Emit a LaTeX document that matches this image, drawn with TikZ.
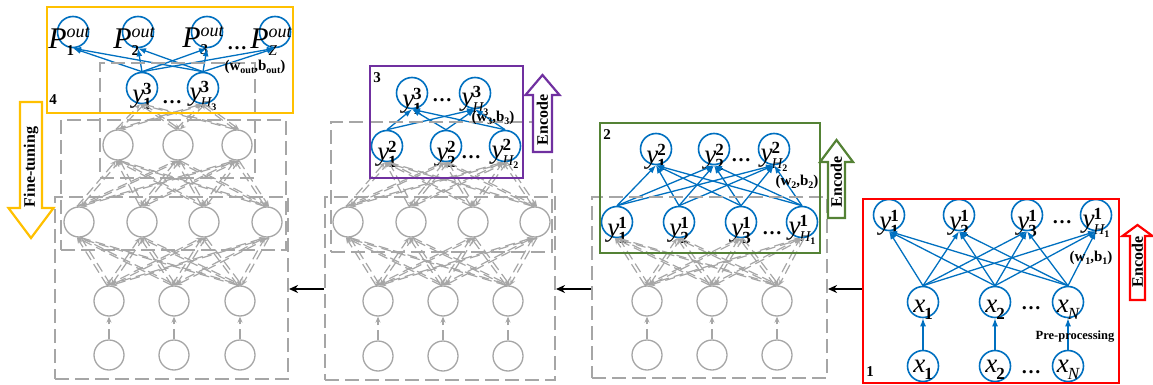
\documentclass[tikz,border=0pt]{standalone}
\usepackage{fontspec}
\setmainfont{Liberation Serif}
\usetikzlibrary{arrows.meta,fit}
\definecolor{myblue}{HTML}{0070C0}
\definecolor{mygray}{HTML}{A6A6A6}
\definecolor{myyellow}{HTML}{FFC000}
\definecolor{mygreen}{HTML}{548235}
\definecolor{mypurple}{HTML}{7030A0}
\definecolor{myred}{HTML}{FF0000}
\newcommand\fsz[1]{\fontsize{#1}{#1}\selectfont}
\newcommand\nlab[3]{{\fsz{27}\itshape #1}\kern-1pt{\fsz{17}\bfseries\ooalign{\raisebox{8pt}{#3}\cr\raisebox{-7pt}{#2}\cr}}}
\newcommand\plab[1]{{\fsz{30}\itshape P}{\ooalign{\raisebox{11pt}{\fsz{18}\itshape out}\cr\raisebox{-7pt}{\fsz{15}\bfseries #1}\cr}}}
\newcommand\Hs[1]{{\fsz{15}\mdseries\itshape H}\raisebox{-3pt}{\fsz{10}\bfseries #1}}
\newcommand\ita[1]{{\mdseries\itshape #1}}
\newcommand\wb[1]{{\fsz{15}\bfseries (w\raisebox{-3pt}{\fsz{10}#1},b\raisebox{-3pt}{\fsz{10}#1})}}
\newcommand\bidir[2]{%
  \draw[garr] ([xshift=-2pt]#1.north) -- ([xshift=-2pt]#2.south);
  \draw[garr] ([xshift=2pt]#2.south) -- ([xshift=2pt]#1.north);}
% color, xc, tip, headbase, tail, shafthalf, headhalf
\newcommand\bigarr[7]{%
  \draw[#1, line width=2.2pt, fill=white, line join=miter]
   (#2,#3) -- (#2+#7,#4) -- (#2+#6,#4) -- (#2+#6,#5) -- (#2-#6,#5) -- (#2-#6,#4) -- (#2-#7,#4) -- cycle;}
\begin{document}
\begin{tikzpicture}[x=1pt,y=-1pt,
  gnode/.style={circle, draw=mygray, line width=1.3pt, minimum size=30pt, inner sep=0pt, fill=white},
  bnode/.style={circle, draw=myblue, line width=1.6pt, minimum size=31pt, inner sep=0pt, fill=white},
  lbl/.style={anchor=base, yshift=-8pt, inner sep=0pt},
  garr/.style={draw=mygray, line width=1.2pt, dash pattern=on 10pt off 5pt, -{Stealth[length=6pt,width=5pt]}},
  barr/.style={draw=myblue, line width=1.3pt, -{Latex[length=8pt,width=6pt]}},
  dbox/.style={draw=mygray, line width=2pt, dash pattern=on 14pt off 6pt, rectangle, inner sep=0pt},
  cbox/.style={rectangle, line width=2.3pt, inner sep=0pt},
  blk/.style={line width=1.8pt, -{Stealth[length=9pt,width=8pt]}},
  numlab/.style={font=\fsz{15}\bfseries, inner sep=0pt},
  dotlab/.style={font=\fsz{20}\bfseries, inner sep=0pt},
  biglab/.style={font=\fsz{16}\bfseries, rotate=90, inner sep=0pt},
  small/.style={font=\fsz{12.5}\bfseries, inner sep=0pt}]
\useasboundingbox (0,0) rectangle (1153,385);

% ================= Left panel =================
\foreach \n/\x in {a/109,b/174,c/240}{
  \node[gnode] (L0\n) at (\x,355) {};
  \node[gnode] (L1\n) at (\x,301) {};}
\foreach \n/\x in {a/79,b/142,c/204,d/267} \node[gnode] (L2\n) at (\x,222) {};
\foreach \n/\x in {a/118,b/178,c/237} \node[gnode] (L3\n) at (\x,145) {};
\node[bnode, label={[lbl]center:\nlab{y}{1}{3}}] (L4a) at (142,88) {};
\node[bnode, label={[lbl]center:\nlab{y}{\Hs{3}}{3}}] (L4b) at (203,88) {};
\node[bnode, label={[lbl,xshift=-4pt,yshift=-1pt]center:\plab{1}}] (L5a) at (73,32) {};
\node[bnode, label={[lbl,xshift=-4pt,yshift=-1pt]center:\plab{2}}] (L5b) at (138,32) {};
\node[bnode, label={[lbl,xshift=-4pt,yshift=-1pt]center:\plab{3}}] (L5c) at (207,32) {};
\node[bnode, label={[lbl,xshift=-4pt,yshift=-1pt]center:\plab{\ita{Z}}}] (L5d) at (275,32) {};

\foreach \a in {a,b,c} \draw[garr] (L0\a.north) -- (L1\a.south);
\foreach \a in {a,b,c} \foreach \b in {a,b,c,d} {\bidir{L1\a}{L2\b}}
\foreach \a in {a,b,c,d} \foreach \b in {a,b,c} {\bidir{L2\a}{L3\b}}
\foreach \a in {a,b,c} \foreach \b in {a,b} {\bidir{L3\a}{L4\b}}
\foreach \a in {a,b} \foreach \b in {a,b,c,d} \draw[barr] (L4\a.north) -- (L5\b.south);

\node[dbox, fit={(55,197) (288,379)}] (Lb1) {};
\node[dbox, fit={(61,120) (286,250)}] (Lb2) {};
\node[dbox, fit={(100,63) (255,178)}] (Lb3) {};
\node[cbox, draw=myyellow, fit={(47,7) (293,113)}] (Lb4) {};
\node[numlab] (n4) at (53,100) {4};
\node[dotlab] (dL5) at (237,48) {\ldots};
\node[dotlab] (dL4) at (172,102) {\ldots};
\node[font=\bfseries, inner sep=0pt] (wout) at (255,67) {\wb{out}};
\bigarr{myyellow}{31}{238}{208}{102}{11}{22.5}
\node[biglab] (ft) at (31,167) {Fine-tuning};

% ================= Middle panel =================
\foreach \n/\x in {a/378,b/443,c/508}{
  \node[gnode] (M0\n) at (\x,356) {};
  \node[gnode] (M1\n) at (\x,301) {};}
\foreach \n/\x in {a/348,b/411,c/473,d/535} \node[gnode] (M2\n) at (\x,222) {};
\node[bnode, label={[lbl]center:\nlab{y}{1}{2}}] (M3a) at (387,146) {};
\node[bnode, label={[lbl]center:\nlab{y}{2}{2}}] (M3b) at (446,146) {};
\node[bnode, label={[lbl]center:\nlab{y}{\Hs{2}}{2}}] (M3c) at (505,146) {};
\node[bnode, label={[lbl]center:\nlab{y}{1}{3}}] (M4a) at (412,93) {};
\node[bnode, label={[lbl]center:\nlab{y}{\Hs{3}}{3}}] (M4b) at (475,93) {};

\foreach \a in {a,b,c} \draw[garr] (M0\a.north) -- (M1\a.south);
\foreach \a in {a,b,c} \foreach \b in {a,b,c,d} {\bidir{M1\a}{M2\b}}
\foreach \a in {a,b,c,d} \foreach \b in {a,b,c} {\bidir{M2\a}{M3\b}}
\foreach \a in {a,b,c} \foreach \b in {a,b} \draw[barr] (M3\a.north) -- (M4\b.south);

\node[dbox, fit={(325,197) (555,380)}] (Mb1) {};
\node[dbox, fit={(331,122) (552,252)}] (Mb2) {};
\node[cbox, draw=mypurple, fit={(370,66) (523,178)}] (Mb3) {};
\node[numlab] (n3) at (377,78) {3};
\node[dotlab] (dM4) at (442,100) {\ldots};
\node[dotlab] (dM3) at (471,157) {\ldots};
\node[font=\bfseries, inner sep=0pt] (w3) at (493,118) {\wb{3}};
\bigarr{mypurple}{542.5}{75}{95}{152}{9.5}{17}
\node[biglab] (e3) at (542.5,120) {Encode};

% ================= Right gray panel =================
\foreach \n/\x in {a/647,b/712,c/777}{
  \node[gnode] (R0\n) at (\x,355) {};
  \node[gnode] (R1\n) at (\x,301) {};}
\node[bnode, label={[lbl]center:\nlab{y}{1}{1}}] (R2a) at (617,222) {};
\node[bnode, label={[lbl]center:\nlab{y}{2}{1}}] (R2b) at (679,222) {};
\node[bnode, label={[lbl]center:\nlab{y}{3}{1}}] (R2c) at (741,222) {};
\node[bnode, label={[lbl]center:\nlab{y}{\Hs{1}}{1}}] (R2d) at (802,222) {};
\node[bnode, label={[lbl]center:\nlab{y}{1}{2}}] (R3a) at (656,149) {};
\node[bnode, label={[lbl]center:\nlab{y}{2}{2}}] (R3b) at (714,149) {};
\node[bnode, label={[lbl]center:\nlab{y}{\Hs{2}}{2}}] (R3c) at (774,149) {};

\foreach \a in {a,b,c} \draw[garr] (R0\a.north) -- (R1\a.south);
\foreach \a in {a,b,c} \foreach \b in {a,b,c,d} {\bidir{R1\a}{R2\b}}
\foreach \a in {a,b,c,d} \foreach \b in {a,b,c} \draw[barr] (R2\a.north) -- (R3\b.south);

\node[dbox, fit={(592,197) (827,378)}] (Rb1) {};
\node[cbox, draw=mygreen, fit={(600,123) (820,253)}] (Rb2) {};
\node[numlab] (n2) at (607,135) {2};
\node[dotlab] (dR3) at (741,160) {\ldots};
\node[dotlab] (dR2) at (772,233) {\ldots};
\node[font=\bfseries, inner sep=0pt] (w2) at (797,182) {\wb{2}};
\bigarr{mygreen}{836.5}{140}{162}{218}{8.5}{16.5}
\node[biglab] (e2) at (836.5,182) {Encode};

% ================= Red panel =================
\node[bnode, label={[lbl,yshift=4pt]center:\nlab{x}{1}{}}] (X0a) at (923,366) {};
\node[bnode, label={[lbl,yshift=4pt]center:\nlab{x}{2}{}}] (X0b) at (995,366) {};
\node[bnode, label={[lbl,yshift=4pt]center:\nlab{x}{\ita{N}}{}}] (X0c) at (1068,366) {};
\node[bnode, label={[lbl]center:\nlab{x}{1}{}}] (X1a) at (923,302) {};
\node[bnode, label={[lbl]center:\nlab{x}{2}{}}] (X1b) at (995,302) {};
\node[bnode, label={[lbl]center:\nlab{x}{\ita{N}}{}}] (X1c) at (1068,302) {};
\node[bnode, label={[lbl]center:\nlab{y}{1}{1}}] (X2a) at (889,215) {};
\node[bnode, label={[lbl]center:\nlab{y}{2}{1}}] (X2b) at (959,215) {};
\node[bnode, label={[lbl]center:\nlab{y}{3}{1}}] (X2c) at (1027,215) {};
\node[bnode, label={[lbl]center:\nlab{y}{\Hs{1}}{1}}] (X2d) at (1096,215) {};

\foreach \a in {a,b,c} \draw[barr] (X0\a.north) -- (X1\a.south);
\foreach \a in {a,b,c} \foreach \b in {a,b,c,d} \draw[barr] (X1\a.north) -- (X2\b.south);

\node[cbox, draw=myred, fit={(863,199) (1119,383)}] (Xb1) {};
\node[numlab] (n1) at (870,372) {1};
\node[dotlab] (dX2) at (1062,222) {\ldots};
\node[dotlab] (dX1) at (1031,308) {\ldots};
\node[dotlab] (dX0) at (1031,372) {\ldots};
\node[font=\bfseries, inner sep=0pt] (w1) at (1091,258) {\wb{1}};
\node[small] (pre) at (1075,337) {Pre-processing};
\bigarr{myred}{1137.5}{225}{236}{300}{7.5}{15}
\node[biglab] (e1) at (1137.5,262) {Encode};

% ================= Between panels =================
\draw[blk] (Xb1.west |- 0,289) -- (Rb1.east |- 0,289);
\draw[blk] (Rb1.west |- 0,289) -- (Mb1.east |- 0,289);
\draw[blk] (Mb1.west |- 0,289) -- (Lb1.east |- 0,289);
\end{tikzpicture}
\end{document}
